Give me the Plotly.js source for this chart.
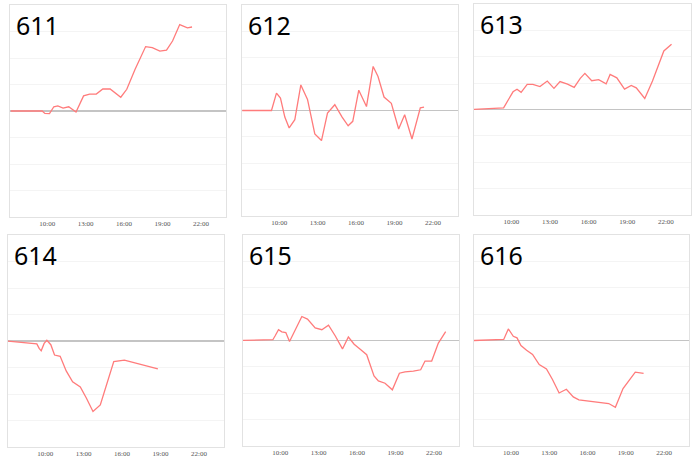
<!DOCTYPE html>
<html>
<head>
<meta charset="utf-8">
<script src="https://cdn.plot.ly/plotly-3.0.1.min.js"></script>
<style>html,body{margin:0;padding:0;background:#fff;}#chart{width:700px;height:462px;}</style>
</head>
<body>
<div id="chart"></div>
<script>
// Panel names
const panelNames = ["611", "612", "613", "614", "615", "616"];
// X tick positions (hours) and labels
const tickHours = [10, 13, 16, 19, 22];
const tickLabels = ["10:00", "13:00", "16:00", "19:00", "22:00"];

// Series: time in hours, value in grid units
const x611 = [7.16, 9.61, 9.82, 10.18, 10.52, 10.83, 11.24, 11.68, 12.25, 12.84, 13.31, 13.83, 14.34, 14.91, 15.74, 16.21, 16.85, 17.68, 18.2, 18.79, 19.31, 19.78, 20.34, 20.94, 21.3];
const y611 = [0, 0, -0.09, -0.1, 0.16, 0.19, 0.11, 0.16, -0.04, 0.57, 0.64, 0.64, 0.83, 0.83, 0.52, 0.82, 1.57, 2.43, 2.39, 2.26, 2.3, 2.64, 3.26, 3.14, 3.17];

const x612 = [7.12, 9.4, 9.79, 10.1, 10.44, 10.78, 11.22, 11.69, 12.21, 12.78, 13.3, 13.77, 14.34, 14.91, 15.38, 15.74, 16.21, 16.81, 17.33, 17.71, 18.18, 18.75, 19.32, 19.79, 20.36, 21.01, 21.3];
const y612 = [0, 0, 0.66, 0.47, -0.25, -0.66, -0.35, 0.97, 0.42, -0.89, -1.14, -0.1, 0.22, -0.25, -0.58, -0.41, 0.77, 0.15, 1.67, 1.29, 0.51, 0.27, -0.7, -0.16, -1.08, 0.1, 0.13];

const x613 = [7.05, 9.4, 9.79, 10.13, 10.44, 10.76, 11.23, 11.67, 12.22, 12.79, 13.31, 13.78, 14.36, 14.88, 15.35, 15.71, 16.24, 16.78, 17.36, 17.67, 18.19, 18.79, 19.31, 19.7, 20.36, 20.96, 21.84, 22.44];
const y613 = [0, 0.06, 0.39, 0.67, 0.77, 0.65, 0.95, 0.95, 0.87, 1.08, 0.8, 1.06, 0.96, 0.84, 1.18, 1.37, 1.09, 1.13, 0.97, 1.33, 1.2, 0.77, 0.91, 0.82, 0.42, 1.08, 2.22, 2.47];

const x614 = [7.0, 9.35, 9.53, 9.69, 9.92, 10.13, 10.44, 10.73, 11.17, 11.64, 12.14, 12.74, 13.21, 13.73, 14.3, 14.83, 15.35, 16.18, 18.79];
const y614 = [0, -0.11, -0.28, -0.37, -0.09, 0.03, -0.14, -0.53, -0.58, -1.13, -1.54, -1.73, -2.15, -2.66, -2.41, -1.54, -0.78, -0.72, -1.05];

const x615 = [7.01, 9.43, 9.61, 9.87, 10.13, 10.44, 10.73, 11.22, 11.69, 12.13, 12.73, 13.25, 13.77, 14.29, 14.86, 15.32, 15.77, 16.29, 16.75, 17.32, 17.66, 18.18, 18.75, 19.3, 19.74, 20.39, 20.96, 21.3, 21.82, 22.34, 22.91];
const y615 = [0, 0.03, 0.18, 0.41, 0.33, 0.3, -0.04, 0.47, 0.91, 0.81, 0.48, 0.41, 0.58, 0.18, -0.32, 0.13, -0.14, -0.35, -0.54, -1.34, -1.53, -1.62, -1.87, -1.24, -1.19, -1.16, -1.11, -0.78, -0.78, -0.1, 0.34];

const x616 = [7.09, 9.43, 9.79, 10.18, 10.47, 10.78, 11.22, 11.69, 12.21, 12.78, 13.25, 13.77, 14.34, 14.88, 15.32, 17.66, 18.18, 18.78, 19.74, 20.39];
const y616 = [0, 0.04, 0.44, 0.16, 0.1, -0.19, -0.37, -0.53, -0.91, -1.08, -1.48, -1.99, -1.85, -2.14, -2.25, -2.39, -2.53, -1.82, -1.2, -1.25];

const seriesX = [x611, x612, x613, x614, x615, x616];
const seriesY = [y611, y612, y613, y614, y615, y616];

// Panel pixel boxes [left, top, right, bottom]
const W = 700, H = 462;
const boxes = [
  [10, 5, 226, 217],
  [242, 5, 458, 216],
  [474, 4, 691, 215],
  [8, 235, 224, 447],
  [243, 235, 459, 446],
  [474, 235, 689, 446]
];

const data = [];
const layout = {
  width: W, height: H,
  margin: {l: 0, r: 0, t: 0, b: 0},
  paper_bgcolor: '#fff', plot_bgcolor: '#fff',
  showlegend: false,
  annotations: []
};

boxes.forEach((b, i) => {
  const n = i + 1;
  const xa = 'xaxis' + (n === 1 ? '' : n);
  const ya = 'yaxis' + (n === 1 ? '' : n);
  const xr = 'x' + (n === 1 ? '' : n);
  const yr = 'y' + (n === 1 ? '' : n);
  data.push({
    type: 'scatter', mode: 'lines',
    x: seriesX[i], y: seriesY[i],
    xaxis: xr, yaxis: yr,
    line: {color: '#ff7b7b', width: 1.3},
    hoverinfo: 'skip'
  });
  layout[xa] = {
    domain: [b[0] / W, b[2] / W],
    anchor: yr,
    range: [7.1, 23.95],
    tickmode: 'array', tickvals: tickHours, ticktext: tickLabels,
    ticks: '', showgrid: false, zeroline: false,
    showline: true, mirror: true, linecolor: '#e2e2e2', linewidth: 1,
    tickfont: {family: 'Liberation Serif', size: 7, color: '#555'},
    fixedrange: true
  };
  layout[ya] = {
    domain: [1 - b[3] / H, 1 - b[1] / H],
    anchor: xr,
    range: [-4, 4],
    dtick: 1, tick0: 0,
    showticklabels: false, ticks: '',
    showgrid: true, gridcolor: '#f4f4f4', gridwidth: 1,
    zeroline: true, zerolinecolor: '#c4c4c4', zerolinewidth: 1.5,
    showline: true, mirror: true, linecolor: '#e2e2e2', linewidth: 1,
    fixedrange: true
  };
  layout.annotations.push({
    text: panelNames[i],
    xref: xr + ' domain', yref: yr + ' domain',
    x: 0, y: 1, xanchor: 'left', yanchor: 'top',
    xshift: 4, yshift: -1,
    showarrow: false,
    font: {family: 'Noto Sans', size: 25, color: '#000'}
  });
});

Plotly.newPlot('chart', data, layout, {displayModeBar: false, staticPlot: true});
</script>
</body>
</html>
